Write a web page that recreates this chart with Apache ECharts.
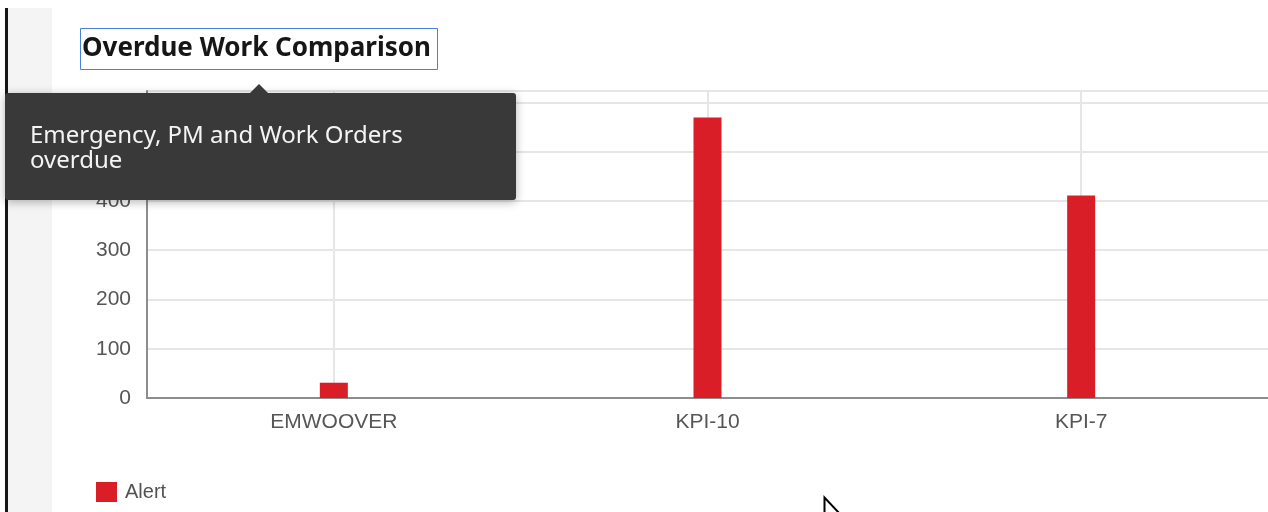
<!DOCTYPE html>
<html>
<head>
<meta charset="utf-8">
<title>Overdue Work Comparison</title>
<script src="https://cdn.jsdelivr.net/npm/echarts@6/dist/echarts.min.js"></script>
<style>
  html, body { margin: 0; padding: 0; background: #fff; }
  #chart { width: 1268px; height: 512px; }
</style>
</head>
<body>
<div id="chart"></div>
<script>
// chart data
var categories = ["EMWOOVER", "KPI-10", "KPI-7"];
var alertValues = [31, 569, 411];
var seriesName = "Alert";
var titleText = "Overdue Work Comparison";
var tooltipLines = ["Emergency, PM and Work Orders", "overdue"];

var chart = echarts.init(document.getElementById("chart"));

var option = {
  backgroundColor: "#ffffff",
  animation: false,
  grid: {
    left: 147,
    top: 91,
    width: 1125,
    height: 307
  },
  legend: {
    left: 91,
    top: 477,
    itemWidth: 21,
    itemHeight: 20,
    itemGap: 8,
    icon: "rect",
    textStyle: {
      color: "#525252",
      fontSize: 20,
      padding: [0, 0, 0, 3],
      fontFamily: "Liberation Sans, Arial, sans-serif"
    },
    data: [seriesName]
  },
  xAxis: {
    type: "category",
    data: categories,
    axisLine: { lineStyle: { color: "#8d8d8d", width: 2 } },
    axisTick: { show: false },
    axisLabel: {
      color: "#565656",
      fontSize: 21,
      margin: 14,
      fontFamily: "Liberation Sans, Arial, sans-serif"
    },
    splitLine: {
      show: true,
      alignWithLabel: true,
      lineStyle: { color: "#e6e6e6", width: 2 }
    }
  },
  yAxis: {
    type: "value",
    min: 0,
    max: 623,
    interval: 100,
    axisLine: { show: true, lineStyle: { color: "#8d8d8d", width: 2 } },
    axisTick: { show: false },
    axisLabel: {
      color: "#565656",
      fontSize: 21,
      margin: 16,
      showMaxLabel: false,
      fontFamily: "Liberation Sans, Arial, sans-serif"
    },
    splitLine: { lineStyle: { color: "#e6e6e6", width: 2 } }
  },
  series: [
    {
      name: seriesName,
      type: "bar",
      data: alertValues,
      barWidth: 28,
      itemStyle: { color: "#da1e28" }
    }
  ],
  graphic: [
    // page side strip
    { type: "rect", shape: { x: 8, y: 8, width: 44, height: 504 }, style: { fill: "#f4f4f4" }, z: 0 },
    { type: "rect", shape: { x: 5, y: 8, width: 3, height: 504 }, style: { fill: "#161616" }, z: 0 },
    // title with focus box
    {
      type: "rect",
      shape: { x: 80.5, y: 28.5, width: 357, height: 41 },
      style: { fill: "#ffffff", stroke: "#4a7fe0", lineWidth: 1 },
      z: 10
    },
    {
      type: "text",
      x: 82,
      y: 49,
      style: {
        text: titleText,
        fill: "#161616",
        font: "bold 26px 'Noto Sans', sans-serif",
        textVerticalAlign: "middle"
      },
      z: 11
    },
    // tooltip popup, on its own layer above the chart
    {
      type: "rect",
      zlevel: 5,
      shape: { x: 5, y: 93, width: 511, height: 107, r: 3 },
      style: {
        fill: "#393939",
        shadowBlur: 10,
        shadowOffsetY: 2,
        shadowColor: "rgba(0,0,0,0.3)"
      }
    },
    {
      type: "polygon",
      zlevel: 5,
      shape: { points: [[249, 94], [259, 84], [269, 94]] },
      style: { fill: "#393939" }
    },
    {
      type: "text",
      zlevel: 5,
      x: 30,
      y: 136,
      style: {
        text: tooltipLines[0],
        fill: "#f4f4f4",
        font: "24px 'Noto Sans', sans-serif",
        textVerticalAlign: "middle"
      }
    },
    {
      type: "text",
      zlevel: 5,
      x: 30,
      y: 161,
      style: {
        text: tooltipLines[1],
        fill: "#f4f4f4",
        font: "24px 'Noto Sans', sans-serif",
        textVerticalAlign: "middle"
      }
    },
    // mouse pointer
    {
      type: "polygon",
      zlevel: 5,
      shape: { points: [[824.5, 497.5], [824.5, 514], [840, 514]] },
      style: { fill: "#ffffff", stroke: "#000000", lineWidth: 2 }
    }
  ]
};

chart.setOption(option);
</script>
</body>
</html>
